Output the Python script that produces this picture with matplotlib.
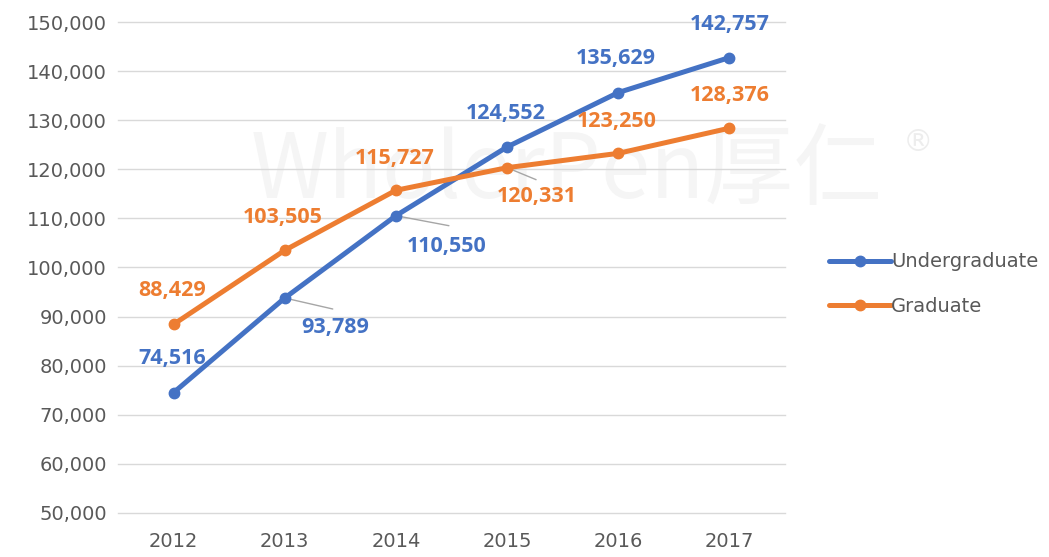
import matplotlib.pyplot as plt
from matplotlib.ticker import FuncFormatter

years = ['2012', '2013', '2014', '2015', '2016', '2017']
undergrad = [74516, 93789, 110550, 124552, 135629, 142757]
graduate = [88429, 103505, 115727, 120331, 123250, 128376]

BLUE = '#4472C4'
ORANGE = '#ED7D31'
GRAY = '#595959'

# label offsets in pixels (dx, dy), and optional leader line end
ug_off = [(-1, 34), (50, -30), (51, -31), (-1, 33), (-2, 34), (0, 33)]
ug_lead = [None, (48, -11), (53, -10), None, None, None]
gr_off = [(-1, 34), (-2, 33), (-1, 32), (30, -29), (-2, 32), (0, 33)]
gr_lead = [None, None, None, (29, -12), None, None]

PT = 0.72  # px -> pt at dpi 100

fig = plt.figure(figsize=(10.49, 5.57), dpi=100)
ax = fig.add_axes([118 / 1049, 44 / 557, 667 / 1049, 491 / 557])
ax.set_zorder(1)

# faint watermark, behind the axes
fig.text(0.54, 0.69, 'WholerPen厚仁', fontsize=64, style='italic',
         color='#F5F5F5', ha='center', va='center', zorder=-1,
         family=['Noto Sans CJK SC', 'DejaVu Sans'])
fig.text(0.875, 0.745, '®', fontsize=22, color='#EDEDED', ha='center', va='center', zorder=-1)

x = list(range(len(years)))
ax.plot(x, undergrad, color=BLUE, lw=3.6, marker='o', ms=7.5, label='Undergraduate',
        solid_capstyle='round', zorder=3)
ax.plot(x, graduate, color=ORANGE, lw=3.6, marker='o', ms=7.5, label='Graduate',
        solid_capstyle='round', zorder=3)

for vals, offs, leads, col in [(undergrad, ug_off, ug_lead, BLUE),
                                (graduate, gr_off, gr_lead, ORANGE)]:
    for i, v in enumerate(vals):
        if leads[i] is not None:
            ax.annotate('', xy=(i, v), xytext=(leads[i][0] * PT, leads[i][1] * PT),
                        textcoords='offset points',
                        arrowprops=dict(arrowstyle='-', color='#A6A6A6', lw=1,
                                        shrinkA=0, shrinkB=0), zorder=2)
        ax.annotate(f'{v:,}', xy=(i, v), xytext=(offs[i][0] * PT, offs[i][1] * PT),
                    textcoords='offset points', ha='center', va='center',
                    color=col, fontsize=15.5, fontweight='bold', family='Open Sans',
                    zorder=4)

ax.set_xlim(-0.5, len(years) - 0.5)
ax.set_ylim(50000, 150000)
ax.set_yticks(range(50000, 150001, 10000))
ax.yaxis.set_major_formatter(FuncFormatter(lambda v, p: f'{int(v):,}'))
ax.set_xticks(x)
ax.set_xticklabels(years)
ax.grid(axis='y', color='#D9D9D9', lw=1)
for gl in ax.get_ygridlines():
    gl.set_clip_on(False)
ax.set_axisbelow(True)
for s in ax.spines.values():
    s.set_visible(False)
ax.tick_params(length=0, labelsize=14, labelcolor=GRAY, pad=8)
ax.tick_params(axis='x', pad=14)
ax.set_facecolor('none')

leg = ax.legend(loc='center left', bbox_to_anchor=(703 / 667, 229 / 491),
                frameon=False, fontsize=14, handlelength=3.2, handletextpad=0.0,
                labelspacing=1.3, borderaxespad=0)
for t in leg.get_texts():
    t.set_color(GRAY)

fig.savefig('out.png', dpi=100)
